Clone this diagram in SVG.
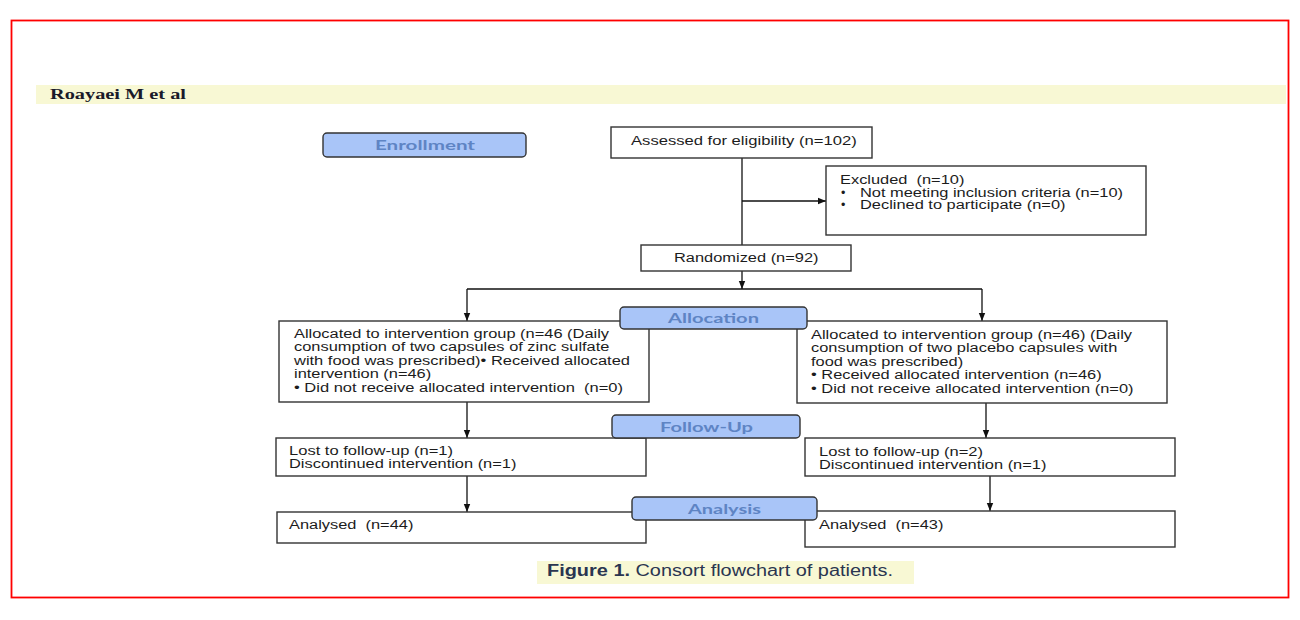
<svg xmlns="http://www.w3.org/2000/svg" width="1300" height="620" viewBox="0 0 1300 620">
<defs>
<style>
.box{fill:#fff;stroke:#333;stroke-width:1.4}
.phase{fill:#a9c5f8;stroke:#333;stroke-width:1.4}
.t{font-family:"Liberation Sans",Arial,sans-serif;font-size:12.5px;fill:#1c1c1c;white-space:pre}
.pt{font-family:Lato,"Open Sans","Liberation Sans",sans-serif;font-weight:700;font-size:13.5px;fill:#5e84c4}
.conn{stroke:#111;stroke-width:1.3;fill:none}
</style>
<marker id="arr" markerUnits="userSpaceOnUse" markerWidth="8" markerHeight="8" refX="8" refY="4" orient="auto">
<path d="M0,0.8 L8,4 L0,7.2 z" fill="#111"/>
</marker>
</defs>
<rect x="0" y="0" width="1300" height="620" fill="#fff"/>
<rect x="11.5" y="20.5" width="1277" height="577" fill="none" stroke="#ff0000" stroke-width="1.8"/>
<g id="header">
<rect x="36" y="85" width="1250" height="19" fill="#f8f8d4"/>
<text x="50" y="99" font-family="Liberation Serif,serif" font-weight="700" font-size="14" fill="#1a1a2a" textLength="136" lengthAdjust="spacingAndGlyphs">Roayaei M et al</text>
</g>

<g id="connectors">
<path class="conn" d="M742,158 V245"/>
<path class="conn" d="M742,201 H826" marker-end="url(#arr)"/>
<path class="conn" d="M742,271 V289" marker-end="url(#arr)"/>
<path class="conn" d="M467,289 H982"/>
<path class="conn" d="M467,289 V321" marker-end="url(#arr)"/>
<path class="conn" d="M982,289 V321" marker-end="url(#arr)"/>
<path class="conn" d="M467,402 V438" marker-end="url(#arr)"/>
<path class="conn" d="M986,403 V438" marker-end="url(#arr)"/>
<path class="conn" d="M467,476 V512" marker-end="url(#arr)"/>
<path class="conn" d="M990,476 V511" marker-end="url(#arr)"/>
</g>

<g id="assessed">
<rect class="box" x="611" y="127" width="261" height="31"/>
<text class="t" x="631" y="145" textLength="225.7" lengthAdjust="spacingAndGlyphs">Assessed for eligibility (n=102)</text>
</g>

<g id="excluded">
<rect class="box" x="826" y="166" width="320" height="69"/>
<text class="t" x="840" y="183.5" textLength="124.4" lengthAdjust="spacingAndGlyphs">Excluded  (n=10)</text>
<text class="t" x="841" y="196.5" font-size="10">•</text>
<text class="t" x="860" y="196.5" textLength="263" lengthAdjust="spacingAndGlyphs">Not meeting inclusion criteria (n=10)</text>
<text class="t" x="841" y="208.5" font-size="10">•</text>
<text class="t" x="860" y="208.5" textLength="205.5" lengthAdjust="spacingAndGlyphs">Declined to participate (n=0)</text>
</g>

<g id="randomized">
<rect class="box" x="641" y="245" width="210" height="26"/>
<text class="t" x="674" y="262" textLength="144.5" lengthAdjust="spacingAndGlyphs">Randomized (n=92)</text>
</g>

<g id="alloc-left">
<rect class="box" x="279" y="321" width="370" height="81"/>
<text class="t" x="294" y="337.5" textLength="315" lengthAdjust="spacingAndGlyphs">Allocated to intervention group (n=46 (Daily</text>
<text class="t" x="294" y="351.2" textLength="315.4" lengthAdjust="spacingAndGlyphs">consumption of two capsules of zinc sulfate</text>
<text class="t" x="294" y="364.8" textLength="336" lengthAdjust="spacingAndGlyphs">with food was prescribed)• Received allocated</text>
<text class="t" x="294" y="378.4" textLength="137.2" lengthAdjust="spacingAndGlyphs">intervention (n=46)</text>
<text class="t" x="294" y="392" textLength="329" lengthAdjust="spacingAndGlyphs">• Did not receive allocated intervention  (n=0)</text>
</g>

<g id="alloc-right">
<rect class="box" x="797" y="321" width="370" height="82"/>
<text class="t" x="811" y="338.5" textLength="321" lengthAdjust="spacingAndGlyphs">Allocated to intervention group (n=46) (Daily</text>
<text class="t" x="811" y="352.2" textLength="306.3" lengthAdjust="spacingAndGlyphs">consumption of two placebo capsules with</text>
<text class="t" x="811" y="365.8" textLength="152.2" lengthAdjust="spacingAndGlyphs">food was prescribed)</text>
<text class="t" x="811" y="379.4" textLength="290.6" lengthAdjust="spacingAndGlyphs">• Received allocated intervention (n=46)</text>
<text class="t" x="811" y="393" textLength="322.5" lengthAdjust="spacingAndGlyphs">• Did not receive allocated intervention (n=0)</text>
</g>

<g id="follow-left">
<rect class="box" x="276" y="438" width="370" height="38"/>
<text class="t" x="289" y="455" textLength="164" lengthAdjust="spacingAndGlyphs">Lost to follow-up (n=1)</text>
<text class="t" x="289" y="468" textLength="227.4" lengthAdjust="spacingAndGlyphs">Discontinued intervention (n=1)</text>
</g>

<g id="follow-right">
<rect class="box" x="805" y="438" width="370" height="38"/>
<text class="t" x="819" y="456" textLength="164" lengthAdjust="spacingAndGlyphs">Lost to follow-up (n=2)</text>
<text class="t" x="819" y="469" textLength="227.4" lengthAdjust="spacingAndGlyphs">Discontinued intervention (n=1)</text>
</g>

<g id="analysed-left">
<rect class="box" x="277" y="512" width="369" height="31"/>
<text class="t" x="289" y="529" textLength="124.4" lengthAdjust="spacingAndGlyphs">Analysed  (n=44)</text>
</g>

<g id="analysed-right">
<rect class="box" x="805" y="511" width="370" height="36"/>
<text class="t" x="819" y="529" textLength="124.4" lengthAdjust="spacingAndGlyphs">Analysed  (n=43)</text>
</g>

<g id="phase-enrollment">
<rect class="phase" x="323" y="133" width="203" height="24" rx="4"/>
<text class="pt" x="375" y="150" textLength="100" lengthAdjust="spacingAndGlyphs">Enrollment</text>
</g>
<g id="phase-allocation">
<rect class="phase" x="620" y="307" width="187" height="22" rx="4"/>
<text class="pt" x="668" y="323" textLength="91" lengthAdjust="spacingAndGlyphs">Allocation</text>
</g>
<g id="phase-followup">
<rect class="phase" x="612" y="415" width="188" height="23" rx="4"/>
<text class="pt" x="660" y="431.5" textLength="93" lengthAdjust="spacingAndGlyphs">Follow-Up</text>
</g>
<g id="phase-analysis">
<rect class="phase" x="632" y="497" width="185" height="23" rx="4"/>
<text class="pt" x="688" y="513.5" textLength="73" lengthAdjust="spacingAndGlyphs">Analysis</text>
</g>

<g id="caption">
<rect x="537" y="561" width="377" height="23" fill="#f8f8d4"/>
<text x="547" y="576" font-family="Liberation Sans,Arial,sans-serif" font-weight="700" font-size="16" fill="#2a3550" textLength="83" lengthAdjust="spacingAndGlyphs">Figure 1.</text>
<text x="635.5" y="576" font-family="Liberation Sans,Arial,sans-serif" font-size="16" fill="#2a3550" textLength="257.5" lengthAdjust="spacingAndGlyphs">Consort flowchart of patients.</text>
</g>
</svg>
